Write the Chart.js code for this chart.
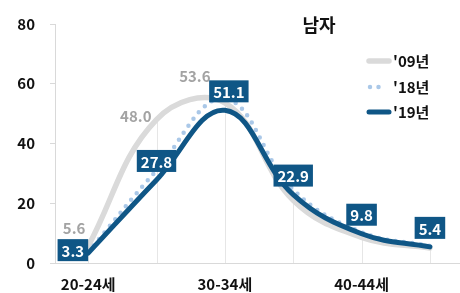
<!DOCTYPE html>
<html>
<head>
<meta charset="utf-8">
<script src="https://cdn.jsdelivr.net/npm/chart.js@4"></script>
<style>
  html, body { margin: 0; padding: 0; background: #fff; overflow: hidden; }
  #wrap { width: 460px; height: 293px; position: relative; }
</style>
</head>
<body>
<div id="wrap"><canvas id="chart"></canvas></div>
<script>
const categories = ['20-24세', '25-29세', '30-34세', '35-39세', '40-44세', '45-49세'];
const shownTicks = [0, 2, 4];
const seriesNames = ["'09년", "'18년", "'19년"];
const values09 = [5.6, 48.0, 53.6, 21.0, 8.6, 5.0];
const values18 = [3.6, 31.0, 55.0, 24.5, 10.3, 5.7];
const values19 = [3.3, 27.8, 51.1, 22.9, 9.8, 5.4];
const labeled09 = [0, 1, 2];
const chartTitle = '남자';

const FONT = "'Noto Sans CJK KR', 'Noto Sans', sans-serif";
const NAVY = '#0f5686';
const GRAY = '#dadada';
const LIGHTBLUE = '#aac8e8';

const toPoints = vals => vals.map((v, i) => ({ x: i, y: v }));

// where the '09 labels sit relative to their point
const grayOffsets = [[-14, -18, 'center'], [-5, -3, 'right'], [-30, -27, 'center']];

const extras = {
    id: 'extras',
    beforeDatasetsDraw(chart) {
        const { ctx, scales: { x, y } } = chart;
        ctx.save();
        ctx.strokeStyle = '#e6e6e6';
        ctx.lineWidth = 1;
        categories.forEach((c, i) => {
            const top = Math.max(values09[i], values18[i], values19[i]);
            const px = Math.round(x.getPixelForValue(i)) + 0.5;
            ctx.beginPath();
            ctx.moveTo(px, y.getPixelForValue(top));
            ctx.lineTo(px, y.bottom);
            ctx.stroke();
        });
        ctx.restore();
    },
    afterDatasetsDraw(chart) {
        const ctx = chart.ctx;
        ctx.save();
        ctx.font = 'bold 15px ' + FONT;
        ctx.textBaseline = 'middle';

        // '09 labels, plain grey text
        const m0 = chart.getDatasetMeta(0);
        ctx.fillStyle = '#a3a3a3';
        labeled09.forEach((i, k) => {
            const p = m0.data[i];
            const [dx, dy, align] = grayOffsets[k];
            ctx.textAlign = align;
            ctx.fillText(values09[i].toFixed(1), p.x + dx, p.y + dy);
        });

        // '19 labels, white on navy boxes
        const m2 = chart.getDatasetMeta(2);
        ctx.textAlign = 'center';
        values19.forEach((v, i) => {
            const p = m2.data[i];
            const txt = v.toFixed(1);
            const w = ctx.measureText(txt).width + 8;
            const h = 22;
            let cx, cy;
            if (i === 0) {
                cx = p.x - w / 2;
                cy = p.y - 3;
            } else {
                cx = p.x + (i === 2 ? 4 : 0);
                cy = p.y - 8 - h / 2;
            }
            ctx.fillStyle = NAVY;
            ctx.fillRect(cx - w / 2, cy - h / 2, w, h);
            ctx.fillStyle = '#fff';
            ctx.fillText(txt, cx, cy + 1);
        });
        ctx.restore();
    },
    afterDraw(chart) {
        const ctx = chart.ctx;
        ctx.save();
        ctx.fillStyle = '#111';
        ctx.textAlign = 'center';
        ctx.textBaseline = 'middle';
        ctx.font = 'bold 18px ' + FONT;
        ctx.fillText(chartTitle, 319, 25);

        const rows = [61, 87, 112];
        ctx.font = 'bold 15px ' + FONT;
        ctx.textAlign = 'left';
        chart.data.datasets.forEach((ds, k) => {
            const yy = rows[k];
            ctx.beginPath();
            ctx.strokeStyle = ds.borderColor;
            ctx.lineWidth = ds.borderWidth;
            ctx.lineCap = 'round';
            ctx.setLineDash(ds.borderDash || []);
            ctx.moveTo(k === 1 ? 370 : 369, yy);
            ctx.lineTo(k === 1 ? 381 : 389, yy);
            ctx.stroke();
            ctx.setLineDash([]);
            ctx.fillStyle = '#111';
            ctx.fillText(seriesNames[k], 393, yy);
        });
        ctx.restore();
    }
};

new Chart(document.getElementById('chart'), {
    type: 'line',
    data: {
        datasets: [
            { label: seriesNames[0], data: toPoints(values09), borderColor: GRAY, borderWidth: 5.5, tension: 0.4, pointRadius: 0, order: 2, borderCapStyle: 'round' },
            { label: seriesNames[1], data: toPoints(values18), borderColor: LIGHTBLUE, borderWidth: 4.5, borderDash: [0, 8.5], borderCapStyle: 'round', tension: 0.4, pointRadius: 0, order: 1 },
            { label: seriesNames[2], data: toPoints(values19), borderColor: NAVY, borderWidth: 5, tension: 0.4, pointRadius: 0, order: 0, borderCapStyle: 'round' }
        ]
    },
    options: {
        responsive: true,
        maintainAspectRatio: false,
        animation: false,
        layout: { padding: { top: 24, left: 0, right: 0, bottom: 0 } },
        plugins: { legend: { display: false }, tooltip: { enabled: false } },
        scales: {
            x: {
                type: 'linear',
                min: -0.485,
                max: 5.44,
                afterBuildTicks: s => { s.ticks = shownTicks.map(v => ({ value: v })); },
                afterFit: s => { s.height = 30; },
                ticks: {
                    callback: v => categories[v],
                    autoSkip: false,
                    maxRotation: 0,
                    padding: 12,
                    color: '#111',
                    font: { family: FONT, size: 15, weight: 'bold' }
                },
                grid: { drawOnChartArea: false, drawTicks: false },
                border: { color: '#d9d9d9' }
            },
            y: {
                min: 0,
                max: 80,
                afterFit: s => { s.width = 55; },
                ticks: {
                    stepSize: 20,
                    padding: 15,
                    color: '#111',
                    font: { family: FONT, size: 15, weight: 'bold' }
                },
                grid: { drawOnChartArea: false, tickLength: 5, color: '#d9d9d9' },
                border: { color: '#d9d9d9' }
            }
        }
    },
    plugins: [extras]
});
</script>
</body>
</html>
